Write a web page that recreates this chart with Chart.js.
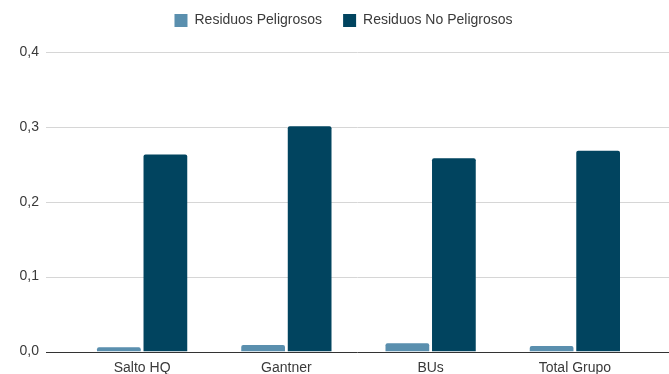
<!DOCTYPE html>
<html>
<head>
<meta charset="utf-8">
<script src="https://cdn.jsdelivr.net/npm/chart.js@4/dist/chart.umd.min.js"></script>
<style>
  html, body { margin: 0; padding: 0; background: #ffffff; }
  #wrap { width: 669px; height: 374px; position: relative; }
</style>
</head>
<body>
<div id="wrap"><canvas id="c" width="669" height="374"></canvas></div>
<script>
// Waste intensity per site
const categories = ['Salto HQ', 'Gantner', 'BUs', 'Total Grupo'];
const seriesNames = ['Residuos Peligrosos', 'Residuos No Peligrosos'];
const peligrosos = [0.0056, 0.0087, 0.011, 0.0073];
const noPeligrosos = [0.263, 0.301, 0.258, 0.268];
const yTickValues = [0, 0.1, 0.2, 0.3, 0.4];
const yTickLabels = ['0,0', '0,1', '0,2', '0,3', '0,4'];

const FONT = "'Liberation Sans', Arial, sans-serif";
const TEXT = '#3a3a3a';

// Legend spacing and full-width horizontal grid lines
const fullGrid = {
  id: 'fullGrid',
  afterInit(chart) {
    // leave room between the legend and the plot
    const lg = chart.legend;
    const fit = lg.fit.bind(lg);
    lg.fit = function () { fit(); if (this.height) this.height += 7; };
  },
  afterLayout(chart) {
    // nudge the legend row up and to the right
    const lg = chart.legend;
    lg.top -= 7.5; lg.bottom -= 7.5;
    lg.left += 20; lg.right += 20;
  },
  beforeDatasetsDraw(chart) {
    const { ctx, scales: { y } } = chart;
    ctx.save();
    ctx.strokeStyle = '#d6d6d6';
    ctx.lineWidth = 1;
    yTickValues.forEach(v => {
      if (v === 0) return;
      const py = Math.round(y.getPixelForValue(v)) + 0.5;
      ctx.beginPath();
      ctx.moveTo(46, py);
      ctx.lineTo(chart.width, py);
      ctx.stroke();
    });
    ctx.restore();
  },
  afterDatasetsDraw(chart) {
    const { ctx, scales: { y } } = chart;
    const py = Math.round(y.getPixelForValue(0)) + 0.5;
    ctx.save();
    ctx.strokeStyle = '#333333';
    ctx.lineWidth = 1;
    ctx.beginPath();
    ctx.moveTo(46, py);
    ctx.lineTo(chart.width, py);
    ctx.stroke();
    ctx.restore();
  }
};

new Chart(document.getElementById('c'), {
  type: 'bar',
  data: {
    labels: categories,
    datasets: [
      {
        label: seriesNames[0],
        data: peligrosos,
        backgroundColor: '#5a8fae',
        borderRadius: 2,
        categoryPercentage: 0.645,
        barPercentage: 0.94
      },
      {
        label: seriesNames[1],
        data: noPeligrosos,
        backgroundColor: '#01445f',
        borderRadius: 2,
        categoryPercentage: 0.645,
        barPercentage: 0.94
      }
    ]
  },
  options: {
    responsive: false,
    animation: false,
    devicePixelRatio: 1,
    layout: { padding: { top: 0, right: 22, bottom: 0, left: 0 } },
    plugins: {
      legend: {
        position: 'top',
        align: 'center',
        labels: {
          boxWidth: 13,
          boxHeight: 13,
          padding: 21,
          color: TEXT,
          font: { family: FONT, size: 14 }
        }
      },
      tooltip: { enabled: false }
    },
    scales: {
      x: {
        grid: { display: false, drawTicks: false },
        border: { display: false },
        ticks: {
          color: TEXT,
          padding: 8,
          font: { family: FONT, size: 14 }
        },
        afterFit(scale) { scale.height = 22.5; }
      },
      y: {
        min: 0,
        max: 0.4,
        afterBuildTicks(scale) {
          scale.ticks = yTickValues.map(v => ({ value: v }));
        },
        grid: { display: false, drawTicks: false },
        border: { display: false },
        ticks: {
          color: TEXT,
          padding: 31,
          font: { family: FONT, size: 14 },
          callback(value, index) { return yTickLabels[index]; }
        },
        afterFit(scale) {
          scale.width = 70;
          scale.paddingTop = 0;
          scale.paddingBottom = 0;
        }
      }
    }
  },
  plugins: [fullGrid]
});
</script>
</body>
</html>
